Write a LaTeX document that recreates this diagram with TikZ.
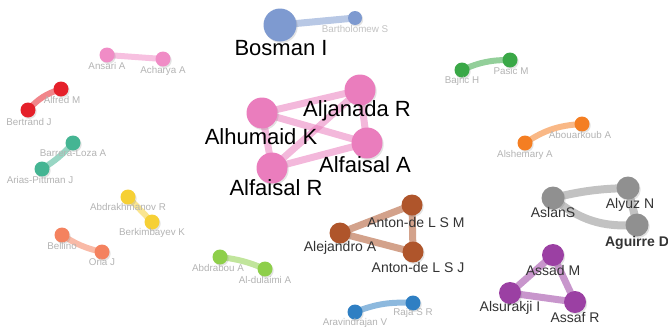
\documentclass[tikz,border=0pt]{standalone}
\usepackage{fontspec}
\setmainfont{Liberation Sans}
\usetikzlibrary{shadows,backgrounds}
\definecolor{cBlue}{HTML}{7E9AD0}
\definecolor{cPink}{HTML}{EA7DBD}
\definecolor{cPinkS}{HTML}{F08CC6}
\definecolor{cRed}{HTML}{E5202A}
\definecolor{cTeal}{HTML}{45B593}
\definecolor{cYel}{HTML}{F6D035}
\definecolor{cSal}{HTML}{F4825F}
\definecolor{cLime}{HTML}{8ECF4A}
\definecolor{cDBlue}{HTML}{2F7FC3}
\definecolor{cBrown}{HTML}{AF552B}
\definecolor{cGreen}{HTML}{3AA847}
\definecolor{cOrange}{HTML}{F47E22}
\definecolor{cGray}{HTML}{909090}
\definecolor{cPurple}{HTML}{9B40A3}
\definecolor{lblGray}{HTML}{B3B3B3}
\definecolor{lblDark}{HTML}{333333}
\tikzset{
  vtx/.style={circle, inner sep=0pt, minimum size=#1,
    drop shadow={shadow xshift=1.2pt, shadow yshift=-1.5pt, opacity=0.22}},
  lnk/.style={line width=#1, line cap=round, opacity=0.55},
  smalllbl/.style={inner sep=0pt, text=lblGray, font=\fontsize{9.8}{11}\selectfont},
  midlbl/.style={inner sep=0pt, text=lblDark, font=\fontsize{14}{16}\selectfont},
  biglbl/.style={inner sep=0pt, text=black, font=\fontsize{22}{24}\selectfont},
}
\begin{document}
\begin{tikzpicture}[x=1pt,y=-1pt]
\useasboundingbox (0,0) rectangle (668,335);

% ---------- nodes ----------
\node[vtx=33, fill=cBlue] (bos) at (280,25) {};
\node[vtx=14, fill=cBlue] (bar) at (355,18) {};

\node[vtx=31, fill=cPink] (alh) at (262,113) {};
\node[vtx=31, fill=cPink] (alj) at (360,90) {};
\node[vtx=31, fill=cPink] (afa) at (367,143) {};
\node[vtx=31, fill=cPink] (afr) at (272,168) {};

\node[vtx=15, fill=cPinkS] (ans) at (107,55) {};
\node[vtx=15, fill=cPinkS] (ach) at (163,59) {};

\node[vtx=15, fill=cRed] (alf) at (61,89) {};
\node[vtx=15, fill=cRed] (ber) at (28,110) {};

\node[vtx=15, fill=cTeal] (brl) at (73,143) {};
\node[vtx=15, fill=cTeal] (apj) at (42,169) {};

\node[vtx=15, fill=cYel] (abk) at (128,197) {};
\node[vtx=15, fill=cYel] (bkv) at (152,222) {};

\node[vtx=15, fill=cSal] (bel) at (62,235) {};
\node[vtx=15, fill=cSal] (ori) at (102,252) {};

\node[vtx=15, fill=cLime] (abr) at (220,257) {};
\node[vtx=15, fill=cLime] (ald) at (265,269) {};

\node[vtx=15, fill=cDBlue] (ara) at (355,312) {};
\node[vtx=15, fill=cDBlue] (raj) at (413,303) {};

\node[vtx=21, fill=cBrown] (ale) at (340,233) {};
\node[vtx=21, fill=cBrown] (asm) at (412,205) {};
\node[vtx=21, fill=cBrown] (asj) at (413,252) {};

\node[vtx=15, fill=cGreen] (baj) at (462,70) {};
\node[vtx=15, fill=cGreen] (pas) at (510,60) {};

\node[vtx=15, fill=cOrange] (abo) at (582,124) {};
\node[vtx=15, fill=cOrange] (als) at (525,143) {};

\node[vtx=23, fill=cGray] (asl) at (553,198) {};
\node[vtx=23, fill=cGray] (aly) at (628,188) {};
\node[vtx=23, fill=cGray] (agu) at (637,225) {};

\node[vtx=22, fill=cPurple] (asd) at (553,255) {};
\node[vtx=22, fill=cPurple] (alu) at (510,293) {};
\node[vtx=22, fill=cPurple] (asf) at (575,302) {};

% ---------- connectors ----------
\begin{scope}[on background layer]
\draw[lnk=7, draw=cBlue] (bos.center) -- (bar.center);
\draw[lnk=7, draw=cPink] (alh.center) -- (alj.center);
\draw[lnk=7, draw=cPink] (alh.center) -- (afa.center);
\draw[lnk=7, draw=cPink] (alh.center) -- (afr.center);
\draw[lnk=7, draw=cPink] (alj.center) -- (afa.center);
\draw[lnk=7, draw=cPink] (alj.center) -- (afr.center);
\draw[lnk=7, draw=cPink] (afa.center) -- (afr.center);
\draw[lnk=6, draw=cPinkS] (ans.center) -- (ach.center);
\draw[lnk=6, draw=cRed] (ber.center) to[bend left=15] (alf.center);
\draw[lnk=6, draw=cTeal] (brl.center) to[bend left=8] (apj.center);
\draw[lnk=6, draw=cYel] (abk.center) -- (bkv.center);
\draw[lnk=6, draw=cSal] (bel.center) to[bend right=10] (ori.center);
\draw[lnk=6, draw=cLime] (abr.center) to[bend left=8] (ald.center);
\draw[lnk=6, draw=cDBlue] (ara.center) to[bend left=12] (raj.center);
\draw[lnk=7, draw=cBrown] (ale.center) -- (asm.center);
\draw[lnk=7, draw=cBrown] (ale.center) -- (asj.center);
\draw[lnk=7, draw=cBrown] (asm.center) -- (asj.center);
\draw[lnk=6, draw=cGreen] (baj.center) to[bend left=12] (pas.center);
\draw[lnk=6, draw=cOrange] (als.center) to[bend left=15] (abo.center);
\draw[lnk=8, draw=cGray] (asl.center) to[bend left=6] (aly.center);
\draw[lnk=8, draw=cGray] (aly.center) -- (agu.center);
\draw[lnk=8, draw=cGray] (asl.center) to[bend right=22] (agu.center);
\draw[lnk=7, draw=cPurple] (asd.center) -- (alu.center);
\draw[lnk=7, draw=cPurple] (asd.center) -- (asf.center);
\draw[lnk=7, draw=cPurple] (alu.center) -- (asf.center);
\end{scope}

% ---------- labels ----------
\node[biglbl] (lbos) at (281,48) {Bosman I};
\node[smalllbl, text=lblGray!80] (lbar) at (355,29) {Bartholomew S};
\node[biglbl] (lalj) at (357,111) {Aljanada R};
\node[biglbl] (lalh) at (261,137) {Alhumaid K};
\node[biglbl] (lafa) at (365,165) {Alfaisal A};
\node[biglbl] (lafr) at (276,188) {Alfaisal R};

\node[smalllbl] (lans) at (107,66) {Ansari A};
\node[smalllbl] (lach) at (163,71) {Acharya A};
\node[smalllbl] (lalf) at (62,100) {Alfred M};
\node[smalllbl] (lber) at (29,122) {Bertrand J};
\node[smalllbl] (lbrl) at (73,153) {Barrera-Loza A};
\node[smalllbl] (lapj) at (40,180) {Arias-Pittman J};
\node[smalllbl] (labk) at (128,207) {Abdrakhmanov R};
\node[smalllbl] (lbkv) at (152,233) {Berkimbayev K};
\node[smalllbl] (lbel) at (62,246) {Bellino};
\node[smalllbl] (lori) at (102,262) {Oria J};
\node[smalllbl] (labr) at (218,268) {Abdrabou A};
\node[smalllbl] (lald) at (265,280) {Al-dulaimi A};
\node[smalllbl] (lara) at (355,323) {Aravindrajan V};
\node[smalllbl] (lraj) at (413,313) {Raja S R};
\node[smalllbl] (lbaj) at (462,81) {Bajric H};
\node[smalllbl] (lpas) at (511,71) {Pasic M};
\node[smalllbl] (labo) at (580,135) {Abouarkoub A};
\node[smalllbl] (lals) at (525,155) {Alshemary A};

\node[midlbl] (lasm) at (416,222) {Anton-de L S M};
\node[midlbl] (lale) at (340,248) {Alejandro A};
\node[midlbl] (lasj) at (418,267) {Anton-de L S J};
\node[midlbl] (lasl) at (553,212) {AslanS};
\node[midlbl] (laly) at (630,205) {Alyuz N};
\node[midlbl, font=\fontsize{14}{16}\selectfont\bfseries] (lagu) at (637,243) {Aguirre D};
\node[midlbl] (lasd) at (553,270) {Assad M};
\node[midlbl] (lalu) at (510,308) {Alsurakji I};
\node[midlbl] (lasf) at (575,317) {Assaf R};
\end{tikzpicture}
\end{document}
